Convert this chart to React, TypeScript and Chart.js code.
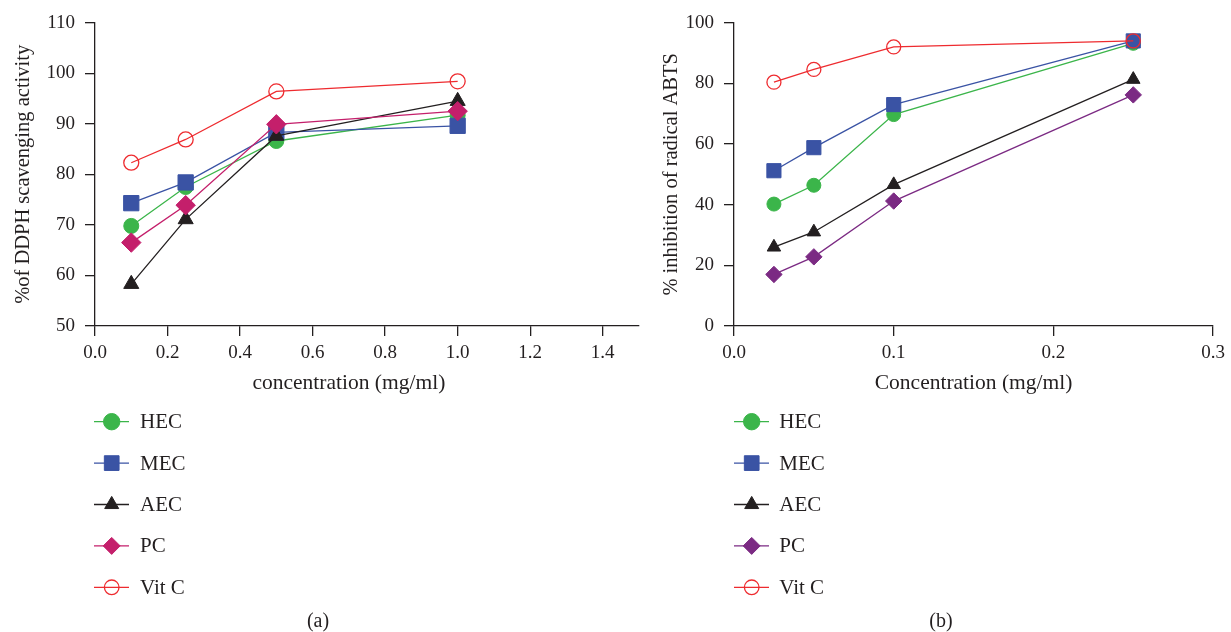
import React, { useEffect, useRef } from 'react';
import { Chart, registerables } from 'chart.js';
import { drawPoint } from 'chart.js/helpers';

Chart.register(...registerables);

// ---------- data ----------
const SERIES_NAMES = ['HEC', 'MEC', 'AEC', 'PC', 'Vit C'];

// Panel (a): DPPH scavenging
const CONC_A = [0.1, 0.25, 0.5, 1.0];
const HEC_A = [69.8, 77.5, 86.6, 91.7];
const MEC_A = [74.3, 78.4, 88.3, 89.6];
const AEC_A = [58.3, 71.1, 87.6, 94.5];
const PC_A = [66.5, 73.9, 89.9, 92.5];
const VITC_A = [82.3, 86.9, 96.4, 98.4];
const X_TICKS_A = [0, 0.2, 0.4, 0.6, 0.8, 1.0, 1.2, 1.4];
const Y_TICKS_A = [50, 60, 70, 80, 90, 100, 110];

// Panel (b): ABTS inhibition
const CONC_B = [0.025, 0.05, 0.1, 0.25];
const HEC_B = [40.2, 46.4, 69.7, 93.2];
const MEC_B = [51.2, 58.8, 73.0, 94.0];
const AEC_B = [26.0, 31.0, 46.6, 81.3];
const PC_B = [17.0, 22.8, 41.2, 76.2];
const VITC_B = [80.4, 84.6, 92.0, 94.0];
const X_TICKS_B = [0, 0.1, 0.2, 0.3];
const Y_TICKS_B = [0, 20, 40, 60, 80, 100];

// ---------- styles ----------
const FONT = 'Liberation Serif, Times New Roman, serif';
const TEXT = '#231f20';
const AXIS = '#231f20';
const COLORS_A = ['#3bb54a', '#3a53a4', '#231f20', '#c41f6b', '#ee2b2f'];
const COLORS_B = ['#3bb54a', '#3a53a4', '#231f20', '#7b2a83', '#ee2b2f'];
const POINT_STYLES = ['circle', 'rect', 'triangle', 'rectRot', 'circle'];
const FILLED = [true, true, true, true, false];
const DRAW_ORDER = [4, 3, 2, 1, 0];
const RADII_A = [7.5, 10.8, 8.7, 9.7, 7.5];
const RADII_B = [7, 10, 7.8, 8.2, 7];
const LEGEND_RADII = [8.2, 10.4, 8.1, 8.5, 7.3];

type Panel = {
  width: number;
  height: number;
  conc: number[];
  series: number[][];
  colors: string[];
  radii: number[];
  xMax: number;
  yMin: number;
  yMax: number;
  xTicks: number[];
  yTicks: number[];
  yTitle: string;
  xTitle: string;
  xTitleCenter: number;
  caption: string;
  captionX: number;
  yAxisWidth: number;
  chartRight: number;
  yTitlePad: number;
  legend: { x0: number; x1: number; cx: number; tx: number; y0: number; dy: number };
};

const CHART_TOP = 22.7;
const CHART_BOTTOM = 326;
const X_AXIS_H = 40;

function makeConfig(p: Panel): any {
  const datasets = SERIES_NAMES.map((name, i) => ({
    label: name,
    data: p.conc.map((c, j) => ({ x: c, y: p.series[i][j] })),
    borderColor: p.colors[i],
    backgroundColor: p.colors[i],
    borderWidth: 1.3,
    pointStyle: POINT_STYLES[i],
    pointRadius: p.radii[i],
    pointHoverRadius: p.radii[i],
    pointBackgroundColor: FILLED[i] ? p.colors[i] : 'rgba(0,0,0,0)',
    pointBorderColor: p.colors[i],
    pointBorderWidth: FILLED[i] ? 1 : 1.3,
    tension: 0,
    fill: false,
    order: DRAW_ORDER[i],
    clip: false,
  }));

  const overlay = {
    id: 'overlay',
    afterDraw(chart: any) {
      const ctx = chart.ctx;
      const L = p.legend;
      ctx.save();
      chart.data.datasets.forEach((ds: any, i: number) => {
        const y = L.y0 + i * L.dy;
        ctx.strokeStyle = ds.borderColor;
        ctx.lineWidth = ds.borderWidth;
        ctx.beginPath();
        ctx.moveTo(L.x0, y);
        ctx.lineTo(L.x1, y);
        ctx.stroke();
        ctx.fillStyle = ds.pointBackgroundColor;
        ctx.strokeStyle = ds.pointBorderColor;
        ctx.lineWidth = ds.pointBorderWidth;
        drawPoint(
          ctx,
          { pointStyle: ds.pointStyle, rotation: 0, radius: LEGEND_RADII[i], borderWidth: ds.pointBorderWidth },
          L.cx,
          y
        );
        ctx.fillStyle = TEXT;
        ctx.font = `21px ${FONT}`;
        ctx.textAlign = 'left';
        ctx.textBaseline = 'middle';
        ctx.fillText(ds.label, L.tx, y + 1);
      });
      const xs = chart.scales.x;
      ctx.fillStyle = TEXT;
      ctx.font = `21.5px ${FONT}`;
      ctx.textAlign = 'center';
      ctx.textBaseline = 'middle';
      ctx.fillText(p.xTitle, xs.getPixelForValue(p.xTitleCenter), 383);
      ctx.font = `20px ${FONT}`;
      ctx.fillText(p.caption, p.captionX, 622);
      ctx.restore();
    },
  };

  return {
    type: 'line',
    data: { datasets },
    plugins: [overlay],
    options: {
      animation: false,
      responsive: false,
      maintainAspectRatio: false,
      events: [],
      layout: {
        padding: {
          left: 0,
          top: CHART_TOP,
          right: p.width - p.chartRight,
          bottom: p.height - CHART_BOTTOM - X_AXIS_H,
        },
      },
      plugins: {
        legend: { display: false },
        tooltip: { enabled: false },
        title: { display: false },
      },
      scales: {
        x: {
          type: 'linear',
          min: 0,
          max: p.xMax,
          afterBuildTicks: (s: any) => {
            s.ticks = p.xTicks.map((v) => ({ value: v }));
          },
          afterFit: (s: any) => {
            s.height = X_AXIS_H;
          },
          border: { display: true, color: AXIS, width: 1.3 },
          grid: {
            drawOnChartArea: false,
            drawTicks: true,
            tickLength: 10,
            color: AXIS,
            lineWidth: 1.3,
          },
          ticks: {
            autoSkip: false,
            maxRotation: 0,
            padding: 6,
            color: TEXT,
            font: { family: FONT, size: 19 },
            callback: (v: any) => Number(v).toFixed(1),
          },
          title: { display: false },
        },
        y: {
          type: 'linear',
          min: p.yMin,
          max: p.yMax,
          afterBuildTicks: (s: any) => {
            s.ticks = p.yTicks.map((v) => ({ value: v }));
          },
          afterFit: (s: any) => {
            s.width = p.yAxisWidth;
          },
          border: { display: true, color: AXIS, width: 1.3 },
          grid: {
            drawOnChartArea: false,
            drawTicks: true,
            tickLength: 10,
            color: AXIS,
            lineWidth: 1.3,
          },
          ticks: {
            padding: 10,
            color: TEXT,
            font: { family: FONT, size: 19 },
            callback: (v: any) => String(v),
          },
          title: {
            display: true,
            text: p.yTitle,
            color: TEXT,
            font: { family: FONT, size: 20.5 },
            padding: { top: p.yTitlePad, bottom: 0 },
          },
        },
      },
    },
  };
}

const PANEL_A: Panel = {
  width: 655,
  height: 632,
  conc: CONC_A,
  series: [HEC_A, MEC_A, AEC_A, PC_A, VITC_A],
  colors: COLORS_A,
  radii: RADII_A,
  xMax: 1.5,
  yMin: 50,
  yMax: 110,
  xTicks: X_TICKS_A,
  yTicks: Y_TICKS_A,
  yTitle: '%of DDPH scavenging activity',
  xTitle: 'concentration (mg/ml)',
  xTitleCenter: 0.7,
  caption: '(a)',
  captionX: 318,
  yAxisWidth: 95,
  chartRight: 639,
  yTitlePad: 11.2,
  legend: { x0: 94, x1: 129, cx: 111.7, tx: 140, y0: 421.7, dy: 41.4 },
};

const PANEL_B: Panel = {
  width: 576,
  height: 632,
  conc: CONC_B,
  series: [HEC_B, MEC_B, AEC_B, PC_B, VITC_B],
  colors: COLORS_B,
  radii: RADII_B,
  xMax: 0.3,
  yMin: 0,
  yMax: 100,
  xTicks: X_TICKS_B,
  yTicks: Y_TICKS_B,
  yTitle: '% inhibition of radical ABTS',
  xTitle: 'Concentration (mg/ml)',
  xTitleCenter: 0.15,
  caption: '(b)',
  captionX: 286,
  yAxisWidth: 79,
  chartRight: 563,
  yTitlePad: 4.7,
  legend: { x0: 79, x1: 114, cx: 96.7, tx: 124.3, y0: 421.7, dy: 41.4 },
};

function PanelChart({ panel, left }: { panel: Panel; left: number }) {
  const ref = useRef<HTMLCanvasElement | null>(null);
  useEffect(() => {
    if (!ref.current) return;
    const chart = new Chart(ref.current, makeConfig(panel));
    return () => chart.destroy();
  }, [panel]);
  return (
    <canvas
      ref={ref}
      width={panel.width}
      height={panel.height}
      style={{
        position: 'absolute',
        left,
        top: 0,
        width: panel.width,
        height: panel.height,
        display: 'block',
      }}
    />
  );
}

export default function App() {
  return (
    <div
      style={{
        position: 'absolute',
        left: 0,
        top: 0,
        width: 1231,
        height: 632,
        background: '#ffffff',
        overflow: 'hidden',
      }}
    >
      <PanelChart panel={PANEL_A} left={0} />
      <PanelChart panel={PANEL_B} left={655} />
    </div>
  );
}
